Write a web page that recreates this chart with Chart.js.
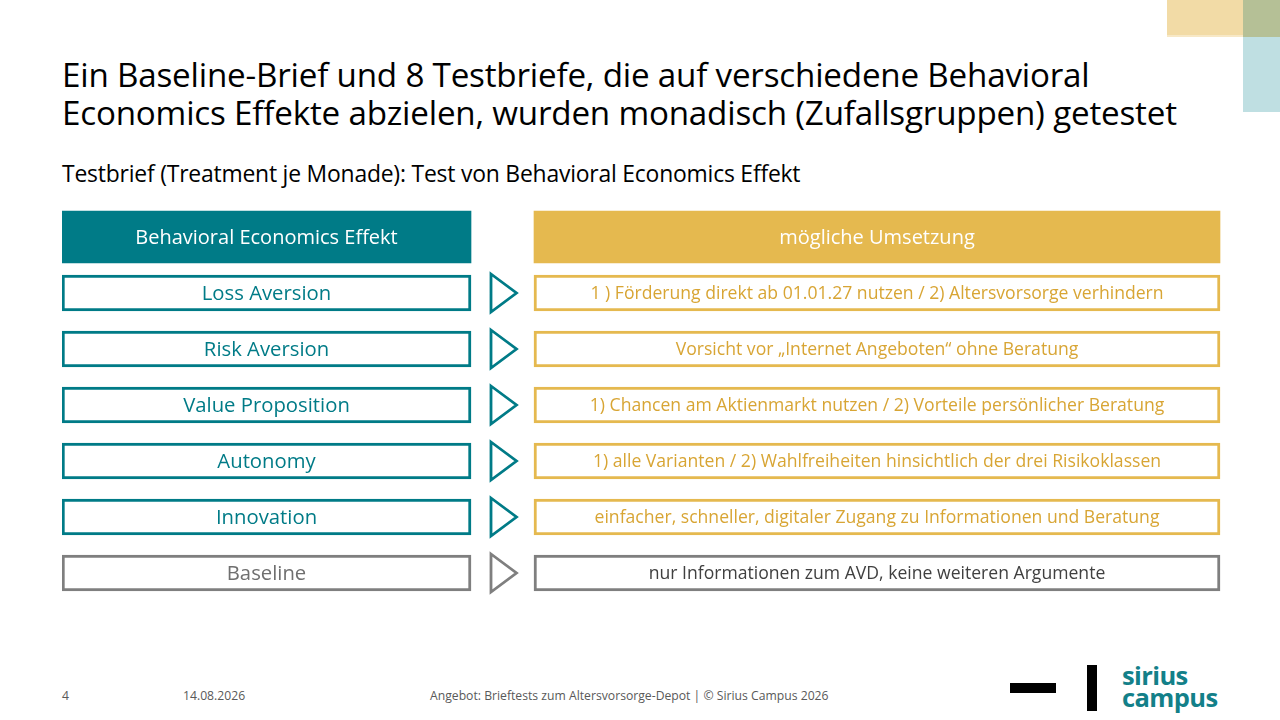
<!DOCTYPE html>
<html lang="de">
<head>
<meta charset="utf-8">
<title>Behavioral Economics Testbriefe</title>
<script src="https://cdn.jsdelivr.net/npm/chart.js@4.4.1/dist/chart.umd.min.js"></script>
<style>
  html, body { margin: 0; padding: 0; background: #fff; }
  body { width: 1280px; height: 720px; position: relative; overflow: hidden; font-family: "Open Sans", "Noto Sans", sans-serif; color: #000; }
  .deco { position: absolute; }
  h1 { position: absolute; left: 62px; top: 56px; margin: 0; font-weight: 400; font-size: 33.2px; line-height: 37.5px; letter-spacing: -0.2px; white-space: nowrap; }
  .sub { position: absolute; left: 62px; top: 158px; font-size: 22.9px; letter-spacing: -0.2px; white-space: nowrap; }
  #chartBox { position: absolute; left: 62px; top: 209px; width: 1160px; height: 392px; }
  .foot { position: absolute; top: 687px; font-size: 12.2px; color: #595959; white-space: nowrap; }
  .logo-text { position: absolute; left: 1122px; top: 664px; font-family: "Open Sans", sans-serif; font-weight: 700; font-size: 25.5px; line-height: 22px; color: #138089; letter-spacing: -0.6px; }
</style>
</head>
<body>
  <div class="deco" style="left:1167px;top:0;width:76px;height:35px;background:#f2dba6;"></div>
  <div class="deco" style="left:1167px;top:35px;width:76px;height:2px;background:#f7e8c6;"></div>
  <div class="deco" style="left:1243px;top:0;width:37px;height:37px;background:#b5c096;"></div>
  <div class="deco" style="left:1243px;top:37px;width:37px;height:75px;background:#bfdfe2;"></div>

  <h1>Ein Baseline-Brief und 8 Testbriefe, die auf verschiedene Behavioral<br>Economics Effekte abzielen, wurden monadisch (Zufallsgruppen) getestet</h1>
  <div class="sub">Testbrief (Treatment je Monade): Test von Behavioral Economics Effekt</div>

  <div id="chartBox"><canvas id="effekteChart"></canvas></div>

  <div class="foot" style="left:62px;">4</div>
  <div class="foot" style="left:183px;">14.08.2026</div>
  <div class="foot" style="left:430px;">Angebot: Brieftests zum Altersvorsorge-Depot | © Sirius Campus 2026</div>

  <div class="deco" style="left:1010px;top:683px;width:46px;height:10px;background:#000;"></div>
  <div class="deco" style="left:1087px;top:665px;width:10px;height:46px;background:#000;"></div>
  <div class="logo-text">sirius<br>campus</div>

<script>
  const headers = ["Behavioral Economics Effekt", "mögliche Umsetzung"];
  const effekte = ["Loss Aversion", "Risk Aversion", "Value Proposition", "Autonomy", "Innovation", "Baseline"];
  const umsetzungen = [
    "1 ) Förderung direkt ab 01.01.27 nutzen / 2) Altersvorsorge verhindern",
    "Vorsicht vor „Internet Angeboten“ ohne Beratung",
    "1) Chancen am Aktienmarkt nutzen / 2) Vorteile persönlicher Beratung",
    "1) alle Varianten / 2) Wahlfreiheiten hinsichtlich der drei Risikoklassen",
    "einfacher, schneller, digitaler Zugang zu Informationen und Beratung",
    "nur Informationen zum AVD, keine weiteren Argumente"
  ];
  const rowLabels = ["Kopf", ...effekte];

  const teal = "#007b87";
  const gold = "#e5b94f";
  const grey = "#7f7f7f";

  // column extents on the x scale
  const leftCol = [0, 409];
  const arrowX = 442;
  const rightCol = [472, 1158];

  const isBase = (name) => name === "Baseline";

  function arrowCanvas(color) {
    const c = document.createElement("canvas");
    c.width = 32;
    c.height = 44;
    const ctx = c.getContext("2d");
    ctx.strokeStyle = color;
    ctx.lineWidth = 2.8;
    ctx.lineJoin = "miter";
    ctx.beginPath();
    ctx.moveTo(3, 3);
    ctx.lineTo(28.5, 22);
    ctx.lineTo(3, 41);
    ctx.closePath();
    ctx.stroke();
    return c;
  }
  const arrowTeal = arrowCanvas(teal);
  const arrowGrey = arrowCanvas(grey);

  const boxLabels = {
    id: "boxLabels",
    afterDatasetsDraw(chart) {
      const ctx = chart.ctx;
      chart.data.datasets.forEach((ds, i) => {
        if (!ds.texts) {
          return;
        }
        const meta = chart.getDatasetMeta(i);
        meta.data.forEach((bar, j) => {
          const text = ds.texts[j];
          if (!text) {
            return;
          }
          ctx.save();
          ctx.font = ds.textFont;
          ctx.fillStyle = typeof ds.textColor === "function" ? ds.textColor(j) : ds.textColor;
          ctx.textAlign = "center";
          ctx.textBaseline = "middle";
          ctx.fillText(text, (bar.x + bar.base) / 2, bar.y + 1);
          ctx.restore();
        });
      });
    }
  };

  const blank = (v) => [v, ...effekte.map(() => null)];

  new Chart(document.getElementById("effekteChart"), {
    type: "bar",
    data: {
      labels: rowLabels,
      datasets: [
        {
          data: blank(leftCol),
          texts: [headers[0]],
          textFont: "20px 'Open Sans'",
          textColor: "#ffffff",
          backgroundColor: teal,
          barThickness: 52,
          grouped: false
        },
        {
          data: blank(rightCol),
          texts: [headers[1]],
          textFont: "20px 'Open Sans'",
          textColor: "#ffffff",
          backgroundColor: gold,
          barThickness: 52,
          grouped: false
        },
        {
          data: [null, ...effekte.map(() => leftCol)],
          texts: [null, ...effekte],
          textFont: "20.3px 'Open Sans'",
          textColor: (j) => (isBase(rowLabels[j]) ? "#6f6f6f" : teal),
          backgroundColor: "#ffffff",
          borderColor: ["#fff", ...effekte.map((e) => (isBase(e) ? grey : teal))],
          borderWidth: 3,
          borderSkipped: false,
          barThickness: 36,
          grouped: false
        },
        {
          data: [null, ...effekte.map(() => rightCol)],
          texts: [null, ...umsetzungen],
          textFont: "17.6px 'Open Sans'",
          textColor: (j) => (isBase(rowLabels[j]) ? "#404040" : "#d8a534"),
          backgroundColor: "#ffffff",
          borderColor: ["#fff", ...effekte.map((e) => (isBase(e) ? grey : gold))],
          borderWidth: 3,
          borderSkipped: false,
          barThickness: 36,
          grouped: false
        },
        {
          type: "line",
          showLine: false,
          data: [null, ...effekte.map(() => arrowX)],
          pointStyle: [null, ...effekte.map((e) => (isBase(e) ? arrowGrey : arrowTeal))],
          pointRadius: 22,
          pointHoverRadius: 22
        }
      ]
    },
    options: {
      indexAxis: "y",
      responsive: true,
      maintainAspectRatio: false,
      animation: false,
      events: [],
      layout: { padding: 0, autoPadding: false },
      plugins: {
        legend: { display: false },
        tooltip: { enabled: false }
      },
      scales: {
        x: { type: "linear", min: 0, max: 1160, display: false },
        y: { display: false }
      }
    },
    plugins: [boxLabels]
  });
</script>
</body>
</html>
